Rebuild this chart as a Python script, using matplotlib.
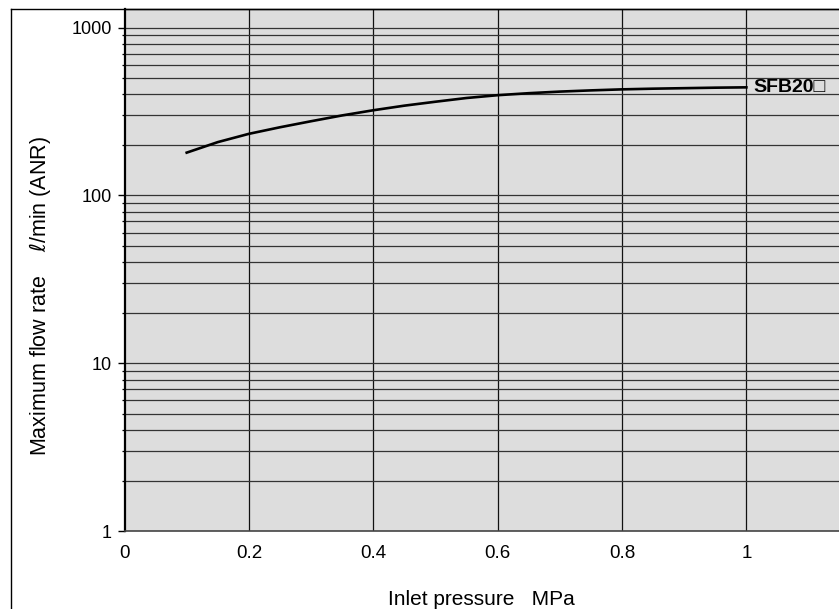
import matplotlib
matplotlib.use("Agg")
import matplotlib.pyplot as plt
from matplotlib.lines import Line2D
from matplotlib.ticker import FixedLocator, NullFormatter

plt.rcParams['font.family'] = ['Liberation Sans', 'DejaVu Sans']

# curve
pressure = [0.10, 0.15, 0.20, 0.25, 0.30, 0.35, 0.40, 0.45, 0.50, 0.55,
            0.60, 0.65, 0.70, 0.75, 0.80, 0.85, 0.90, 0.95, 1.00]
flow = [180, 208, 233, 255, 277, 300, 322, 343, 362, 381,
        396, 407, 416, 423, 429, 433, 436, 439, 441]

x_ticks = [0, 0.2, 0.4, 0.6, 0.8, 1.0]
x_labels = ['0', '0.2', '0.4', '0.6', '0.8', '1']
y_ticks = [1, 10, 100, 1000]
y_labels = ['1', '10', '100', '1000']
y_minor = [m * d for d in [1, 10, 100, 1000] for m in range(2, 10)]

fig = plt.figure(figsize=(8.39, 6.09), dpi=100)
ax = fig.add_axes([0.1484, 0.128, 0.8516, 0.857])
ax.set_facecolor('#dddddd')

ax.set_yscale('log')
ax.set_xlim(0, 1.149)
ax.set_ylim(1, 1290)

ax.xaxis.set_major_locator(FixedLocator(x_ticks))
ax.set_xticklabels(x_labels)
ax.yaxis.set_major_locator(FixedLocator(y_ticks))
ax.set_yticklabels(y_labels)
ax.yaxis.set_minor_locator(FixedLocator(y_minor))
ax.yaxis.set_minor_formatter(NullFormatter())

for v in x_ticks[1:]:
    ax.axvline(v, color='#111111', lw=0.9, zorder=1)
for v in y_ticks[1:] + y_minor:
    if v < 1290:
        ax.axhline(v, color='#333333', lw=0.9, zorder=1)

ax.plot(pressure, flow, color='black', lw=1.9, zorder=3)
ax.text(1.012, flow[-1], 'SFB20\u25a1', fontsize=14, fontweight='bold',
        va='center', ha='left', zorder=4)

ax.tick_params(axis='x', length=0, pad=10, labelsize=13.5)
ax.tick_params(axis='y', which='major', length=5, width=1, pad=4, labelsize=13)
ax.tick_params(axis='y', which='minor', length=2, width=0.9)

ax.spines['right'].set_visible(False)
ax.spines['left'].set_linewidth(1.6)
ax.spines['bottom'].set_linewidth(1.2)
ax.spines['bottom'].set_color('#444444')
ax.spines['top'].set_linewidth(1.0)

ax.set_xlabel('Inlet pressure   MPa', fontsize=15, labelpad=20)
ax.set_ylabel('Maximum flow rate    $\\ell$/min (ANR)', fontsize=15.5)
ax.yaxis.set_label_coords(-0.1, 0.45)

# outer frame (left and top edges only)
fig.add_artist(Line2D([0.0131, 0.0131], [0, 0.9852], transform=fig.transFigure, color='black', lw=1.0))
fig.add_artist(Line2D([0.0131, 1], [0.9852, 0.9852], transform=fig.transFigure, color='black', lw=1.0))

fig.savefig('out.png', dpi=100)
